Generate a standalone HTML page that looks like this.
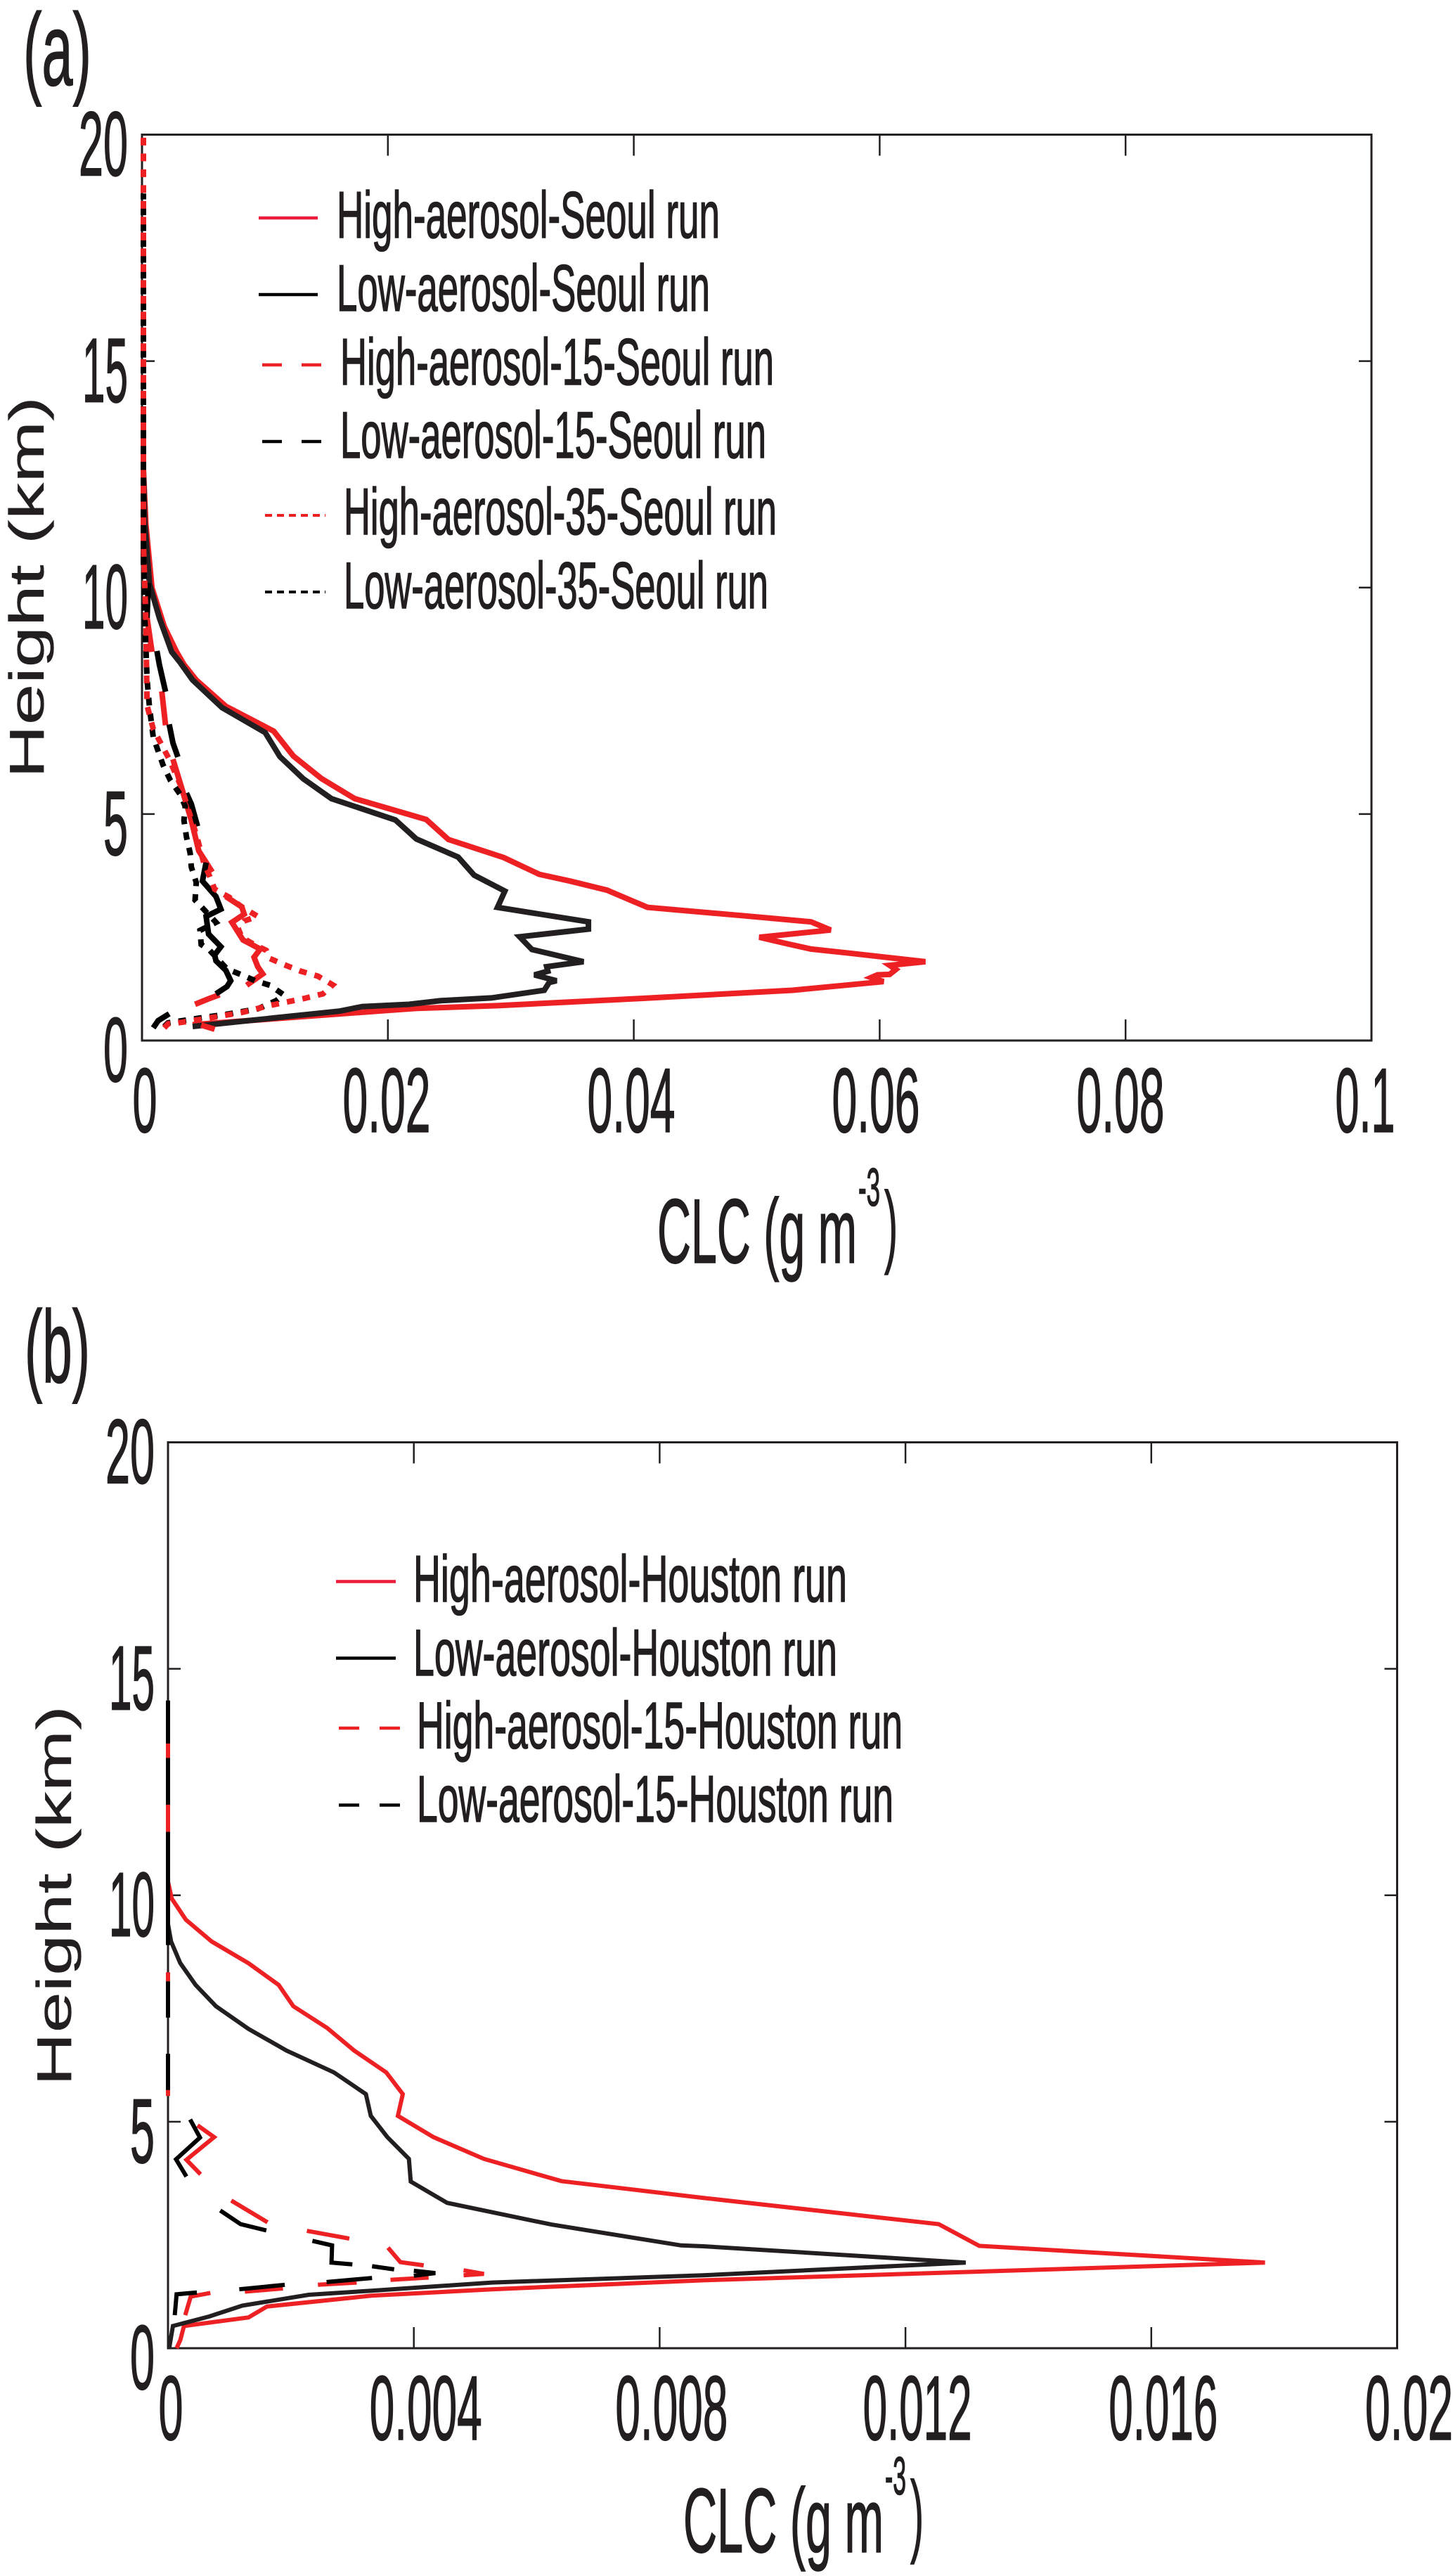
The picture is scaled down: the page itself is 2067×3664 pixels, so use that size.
<!DOCTYPE html>
<html lang="en">
<head>
<meta charset="utf-8">
<title>CLC profiles</title>
<style>
html,body{margin:0;padding:0;background:#fff;}
svg{display:block;}
text{font-family:"Liberation Sans",sans-serif;fill:#231f20;stroke:#231f20;stroke-width:1.6px;}
text.axis-title-y{stroke-width:0.3px;}
</style>
</head>
<body>
<svg id="figure" xmlns="http://www.w3.org/2000/svg" width="2067" height="3664" viewBox="0 0 2067 3664">
  <rect x="0" y="0" width="2067" height="3664" fill="#fff"/>

  <text x="33" y="121" font-size="146" textLength="97" lengthAdjust="spacingAndGlyphs">(a)</text>
  <text x="35" y="1966" font-size="146" textLength="93" lengthAdjust="spacingAndGlyphs">(b)</text>

  <text class="axis-title-y" transform="translate(62,1107) rotate(-90)" font-size="70" textLength="543" lengthAdjust="spacingAndGlyphs">Height (km)</text>
  <text class="axis-title-y" transform="translate(101,2967) rotate(-90)" font-size="70" textLength="541" lengthAdjust="spacingAndGlyphs">Height (km)</text>

  <g>
    <text x="935" y="1796" font-size="130" textLength="284" lengthAdjust="spacingAndGlyphs">CLC (g m</text>
    <text x="1221" y="1715" font-size="76" textLength="31" lengthAdjust="spacingAndGlyphs">-3</text>
    <text x="1258" y="1786" font-size="130" textLength="19" lengthAdjust="spacingAndGlyphs">)</text>
  </g>
  <g>
    <text x="972" y="3630" font-size="130" textLength="285" lengthAdjust="spacingAndGlyphs">CLC (g m</text>
    <text x="1259" y="3548" font-size="76" textLength="30" lengthAdjust="spacingAndGlyphs">-3</text>
    <text x="1295" y="3620" font-size="130" textLength="19" lengthAdjust="spacingAndGlyphs">)</text>
  </g>

  <g id="plot-a"></g>
  <g id="plot-b"></g>

  <g>
    <g>
      <line x1="368" y1="310" x2="452" y2="310" stroke="#ed1c3c" stroke-width="4.5"/>
      <text x="479" y="338" font-size="94" textLength="545" lengthAdjust="spacingAndGlyphs">High-aerosol-Seoul run</text>
    </g>
    <g>
      <line x1="368" y1="419" x2="452" y2="419" stroke="#000" stroke-width="4.5"/>
      <text x="479" y="442" font-size="94" textLength="531" lengthAdjust="spacingAndGlyphs">Low-aerosol-Seoul run</text>
    </g>
    <g>
      <line x1="373" y1="519" x2="458" y2="519" stroke="#ed2024" stroke-width="4.5" stroke-dasharray="28 28"/>
      <text x="484" y="547" font-size="94" textLength="617" lengthAdjust="spacingAndGlyphs">High-aerosol-15-Seoul run</text>
    </g>
    <g>
      <line x1="373" y1="628" x2="458" y2="628" stroke="#000" stroke-width="4.5" stroke-dasharray="28 28"/>
      <text x="484" y="651" font-size="94" textLength="606" lengthAdjust="spacingAndGlyphs">Low-aerosol-15-Seoul run</text>
    </g>
    <g>
      <line x1="377" y1="733" x2="463" y2="733" stroke="#ed2024" stroke-width="4" stroke-dasharray="10 7"/>
      <text x="489" y="760" font-size="94" textLength="616" lengthAdjust="spacingAndGlyphs">High-aerosol-35-Seoul run</text>
    </g>
    <g>
      <line x1="377" y1="842" x2="463" y2="842" stroke="#000" stroke-width="4" stroke-dasharray="10 7"/>
      <text x="489" y="865" font-size="94" textLength="604" lengthAdjust="spacingAndGlyphs">Low-aerosol-35-Seoul run</text>
    </g>
  </g>

  <g>
    <g>
      <line x1="478" y1="2249.5" x2="563" y2="2249.5" stroke="#ed1c3c" stroke-width="4.5"/>
      <text x="588" y="2278" font-size="94" textLength="617" lengthAdjust="spacingAndGlyphs">High-aerosol-Houston run</text>
    </g>
    <g>
      <line x1="478" y1="2358.5" x2="563" y2="2358.5" stroke="#000" stroke-width="4.5"/>
      <text x="588" y="2383" font-size="94" textLength="603" lengthAdjust="spacingAndGlyphs">Low-aerosol-Houston run</text>
    </g>
    <g>
      <line x1="482" y1="2458" x2="569" y2="2458" stroke="#ed2024" stroke-width="4.5" stroke-dasharray="29 29"/>
      <text x="593" y="2486.6" font-size="94" textLength="691" lengthAdjust="spacingAndGlyphs">High-aerosol-15-Houston run</text>
    </g>
    <g>
      <line x1="482" y1="2567.5" x2="569" y2="2567.5" stroke="#000" stroke-width="4.5" stroke-dasharray="29 29"/>
      <text x="593" y="2591" font-size="94" textLength="678" lengthAdjust="spacingAndGlyphs">Low-aerosol-15-Houston run</text>
    </g>
  </g>
</svg>

<script>
// ---- Panel (a) tick labels ----
var panelAXTicks = [0, 0.02, 0.04, 0.06, 0.08, 0.1];
var panelAXTickLabels = ["0", "0.02", "0.04", "0.06", "0.08", "0.1"];
var panelAYTicks = [0, 5, 10, 15, 20];
var panelAYTickLabels = ["0", "5", "10", "15", "20"];

// ---- Panel (a) series: CLC (g m-3) and height (km); null marks a dash gap ----
var highSeoulClc = [0.0040,0.0191,0.0222,0.0288,0.0405,0.0528,0.0602,0.0592,0.0597,0.0607,0.0612,0.0607,0.0636,0.0574,0.0543,0.0523,0.0501,0.0559,0.0543,0.0490,0.0410,0.0377,0.0347,0.0322,0.0293,0.0248,0.0230,0.0172,0.0145,0.0122,0.0106,0.0067,0.0043,0.0033,0.0027,0.0017,0.0007,0.0002,0];
var highSeoulHeight = [0.35,0.65,0.71,0.77,0.93,1.11,1.30,1.39,1.45,1.46,1.57,1.66,1.74,1.93,2.02,2.14,2.28,2.44,2.62,2.75,2.94,3.32,3.52,3.67,4.04,4.44,4.88,5.34,5.78,6.28,6.83,7.38,7.96,8.30,8.58,9.14,9.99,11.4,12.6];

var lowSeoulClc = [0.0040,0.0160,0.0178,0.0216,0.0242,0.0283,0.0326,0.0330,0.0336,0.0318,0.0329,0.0328,0.0358,0.0316,0.0306,0.0362,0.0362,0.0288,0.0294,0.0269,0.0256,0.0222,0.0205,0.0153,0.0130,0.0111,0.0099,0.0064,0.0040,0.0030,0.0023,0.0013,0.0005,0.0001,0];
var lowSeoulHeight = [0.31,0.65,0.75,0.80,0.88,0.94,1.11,1.28,1.32,1.45,1.53,1.63,1.74,2.01,2.29,2.46,2.62,2.94,3.30,3.65,4.05,4.45,4.87,5.34,5.78,6.27,6.80,7.35,7.96,8.34,8.58,9.33,10.08,11.5,12.6];

var high15SeoulClc = [0.0058,0.0047,null,0.0042,0.0052,0.0062,null,0.0084,0.0097,0.0093,0.0090,0.0095,0.0081,0.0072,0.0082,0.0080,0.0067,null,0.0056,0.0045,0.0039,0.0031,0.0024,null,0.0018,0.0015,null,0.0007,0.0003,null,0,0];
var high15SeoulHeight = [0.25,0.34,null,0.80,0.91,1.01,null,1.22,1.47,1.63,1.84,2.02,2.22,2.61,2.79,2.95,3.18,null,3.72,4.19,4.86,5.59,6.21,null,6.96,7.71,null,8.58,9.33,null,10.5,14];

var low15SeoulClc = [0.0008,0.0012,0.0021,null,0.0059,0.0068,0.0071,0.0067,0.0059,0.0058,0.0063,0.0053,0.0051,0.0063,0.0059,0.0048,0.0051,null,0.0044,0.0039,0.0035,null,0.0028,0.0024,0.0021,null,0.0018,0.0013,0.0011,null,0.0004,0.0003,null,0,0];
var low15SeoulHeight = [0.28,0.44,0.59,null,1.03,1.19,1.32,1.55,1.76,1.89,2.07,2.35,2.74,2.90,3.18,3.52,3.93,null,4.73,5.22,5.46,null,6.26,6.57,6.98,null,7.70,8.30,8.60,null,10.1,9.33,null,10.5,14];

var low35SeoulClc = [0.0017,0.0020,0.0044,0.0070,0.0093,0.0108,0.0114,0.0103,0.0091,0.0080,0.0068,0.0054,0.0047,0.0046,0.0059,0.0049,0.0042,0.0043,0.0039,0.0038,0.0035,0.0033,0.0034,0.0030,0.0022,0.0016,0.0012,0.0008,0.0005,0.0003,0.0001,0,0];
var low35SeoulHeight = [0.31,0.39,0.49,0.59,0.70,0.88,1.01,1.22,1.32,1.45,1.58,1.99,2.12,2.43,2.61,2.90,3.10,3.49,3.83,4.14,4.50,4.86,5.17,5.43,5.74,6.08,6.39,6.70,7.35,7.97,9.5,11,18.7];

var high35SeoulClc = [0.0017,0.0020,0.0028,0.0052,0.0080,0.0104,0.0131,0.0146,0.0154,0.0142,0.0128,0.0114,0.0103,0.0100,0.0090,0.0080,0.0077,0.0082,0.0093,0.0080,0.0070,0.0058,0.0054,0.0049,0.0043,0.0038,0.0031,0.0021,0.0015,0.0008,0.0003,0.0002,0,0];
var high35SeoulHeight = [0.28,0.37,0.39,0.49,0.62,0.78,0.93,1.03,1.23,1.42,1.53,1.68,1.81,1.99,2.12,2.28,2.48,2.64,2.74,2.95,3.16,3.34,3.62,3.93,4.55,4.97,5.59,6.21,6.52,6.88,7.40,9.3,11,20];

// ---- Panel (b) tick labels ----
var panelBXTicks = [0, 0.004, 0.008, 0.012, 0.016, 0.02];
var panelBXTickLabels = ["0", "0.004", "0.008", "0.012", "0.016", "0.02"];
var panelBYTicks = [0, 5, 10, 15, 20];
var panelBYTickLabels = ["0", "5", "10", "15", "20"];

// ---- Panel (b) series ----
var highHoustonClc = [0.00014,0.0002,0.00026,0.00131,0.00161,0.00331,0.00527,0.00871,0.01785,0.0132,0.01254,0.0087,0.0064,0.00514,0.00432,0.00374,0.00382,0.00355,0.00303,0.00259,0.00204,0.0018,0.00131,0.00071,0.00029,0.00006,0];
var highHoustonHeight = [0,0.18,0.49,0.68,0.92,1.16,1.30,1.50,1.89,2.26,2.74,3.32,3.69,4.18,4.66,5.13,5.61,6.09,6.57,7.07,7.55,8.02,8.50,8.98,9.46,9.93,10.3];

var lowHoustonClc = [0.00002,0.00008,0.00067,0.00121,0.00229,0.00331,0.00527,0.00871,0.01298,0.00871,0.00835,0.00624,0.00454,0.00395,0.00392,0.00357,0.0033,0.00322,0.0027,0.00193,0.00131,0.00078,0.00045,0.0002,0.00005,0];
var lowHoustonHeight = [0,0.49,0.70,0.94,1.18,1.27,1.45,1.61,1.89,2.25,2.27,2.73,3.21,3.68,4.18,4.66,5.13,5.61,6.09,6.57,7.05,7.55,8.02,8.50,8.98,9.36];

var high15HoustonClc = [0.00028,0.00037,0.00069,null,0.00125,0.00187,null,0.00244,0.00307,null,0.00362,0.00424,null,0.00481,0.00514,0.00481,null,0.00416,0.00378,0.00358,null,0.00295,0.00226,null,0.00162,0.00103,null,0.00053,0.0003,0.00075,0.00048,null,0,0,null,0,0,null,0,0,null,0,0];
var high15HoustonHeight = [0.73,1.14,1.22,null,1.25,1.32,null,1.40,1.45,null,1.51,1.56,null,1.61,1.64,1.72,null,1.83,1.90,2.22,null,2.42,2.59,null,2.78,3.26,null,3.84,4.16,4.66,4.92,null,5.57,5.72,null,8.1,8.3,null,11.4,12,null,13.03,13.35];

var low15HoustonClc = [0.00011,0.00014,0.00047,null,0.00116,0.0019,null,0.00258,0.00332,null,0.004,0.00435,0.004,null,0.00368,0.00332,null,0.003,0.00266,0.00267,0.00235,null,0.0016,0.00118,0.00085,null,0.0003,0.00013,0.00052,0.00036,null,0,0,null,0,0,null,0,0,null,0,0,null,0,0];
var low15HoustonHeight = [0.73,1.19,1.23,null,1.30,1.40,null,1.46,1.55,null,1.60,1.66,1.71,null,1.74,1.81,null,1.85,1.89,2.27,2.37,null,2.60,2.74,3.04,null,3.79,4.17,4.65,5.05,null,5.7,6.5,null,7.3,8.1,null,8.9,11.4,null,12,13.03,null,13.35,14.3];

var SVG_NS = "http://www.w3.org/2000/svg";

function makeScale(domainMax, start, end) {
  return function (value) { return start + (value / domainMax) * (end - start); };
}

function labelWidth(str) {
  var total = 0;
  for (var i = 0; i < str.length; i++) {
    total += str[i] === "." ? 20 : (str[i] === "1" ? 30 : 35);
  }
  return total;
}

function drawSeries(parent, name, xs, ys, xScale, yScale, color, width, dash) {
  var d = "";
  var pen = false;
  for (var i = 0; i < xs.length; i++) {
    if (xs[i] === null || ys[i] === null) { pen = false; continue; }
    d += (pen ? "L" : "M") + xScale(xs[i]).toFixed(1) + " " + yScale(ys[i]).toFixed(1);
    pen = true;
  }
  var el = document.createElementNS(SVG_NS, "path");
  el.setAttribute("d", d);
  el.setAttribute("fill", "none");
  el.setAttribute("stroke", color);
  el.setAttribute("stroke-width", width);
  el.setAttribute("stroke-linejoin", "miter");
  el.setAttribute("stroke-miterlimit", "3");
  if (dash) { el.setAttribute("stroke-dasharray", dash); }
  
  
  parent.appendChild(el);
}

function drawFrame(parent, prefix, box, xTicks, xLabels, yTicks, yLabels, xScale, yScale, xOffset, yRight) {
  var frame = document.createElementNS(SVG_NS, "rect");
  frame.setAttribute("x", box.l);
  frame.setAttribute("y", box.t);
  frame.setAttribute("width", box.r - box.l);
  frame.setAttribute("height", box.b - box.t);
  frame.setAttribute("fill", "none");
  frame.setAttribute("stroke", "#231f20");
  frame.setAttribute("stroke-width", "3");
  
  
  parent.appendChild(frame);

  xTicks.forEach(function (value, i) {
    var px = xScale(value);
    if (i > 0 && i < xTicks.length - 1) {
      var tick = document.createElementNS(SVG_NS, "path");
      tick.setAttribute("d", "M" + px + " " + box.b + "v-30M" + px + " " + box.t + "v30");
      tick.setAttribute("stroke", "#231f20");
      tick.setAttribute("stroke-width", "2.5");
      
      
      parent.appendChild(tick);
    }
    var w = labelWidth(xLabels[i]);
    var label = document.createElementNS(SVG_NS, "text");
    label.textContent = xLabels[i];
    label.setAttribute("x", px - w / 2 + xOffset(value));
    label.setAttribute("y", box.labelY);
    label.setAttribute("font-size", "130");
    label.setAttribute("textLength", w);
    label.setAttribute("lengthAdjust", "spacingAndGlyphs");
    
    
    parent.appendChild(label);
  });

  yTicks.forEach(function (value, i) {
    var py = yScale(value);
    if (i > 0 && i < yTicks.length - 1) {
      var tick = document.createElementNS(SVG_NS, "path");
      tick.setAttribute("d", "M" + box.l + " " + py + "h18M" + box.r + " " + py + "h-18");
      tick.setAttribute("stroke", "#231f20");
      tick.setAttribute("stroke-width", "2.5");
      
      
      parent.appendChild(tick);
    }
    var w = labelWidth(yLabels[i]);
    var label = document.createElementNS(SVG_NS, "text");
    label.textContent = yLabels[i];
    label.setAttribute("x", yRight - w);
    label.setAttribute("y", py + 58);
    label.setAttribute("font-size", "130");
    label.setAttribute("textLength", w);
    label.setAttribute("lengthAdjust", "spacingAndGlyphs");
    
    
    parent.appendChild(label);
  });
}

// Panel (a)
(function () {
  var box = { l: 202, r: 1951, t: 191.5, b: 1480, labelY: 1610 };
  var x = makeScale(0.1, box.l, box.r);
  var y = makeScale(20, box.b, box.t);
  var plot = document.getElementById("plot-a");
  drawFrame(plot, "panel-a", box, panelAXTicks, panelAXTickLabels, panelAYTicks, panelAYTickLabels, x, y,
    function (v) { return v === 0 ? 4 : -v * 90; }, 182);
  var ox = function (v) { return x(v) + 2; };
  drawSeries(plot, "series-high-aerosol-seoul", highSeoulClc, highSeoulHeight, ox, y, "#ed2024", 8);
  drawSeries(plot, "series-low-aerosol-seoul", lowSeoulClc, lowSeoulHeight, ox, y, "#231f20", 8);
  drawSeries(plot, "series-high-aerosol-15-seoul", high15SeoulClc, high15SeoulHeight, ox, y, "#ed2024", 8);
  drawSeries(plot, "series-low-aerosol-15-seoul", low15SeoulClc, low15SeoulHeight, ox, y, "#000", 8);
  drawSeries(plot, "series-low-aerosol-35-seoul", low35SeoulClc, low35SeoulHeight, ox, y, "#000", 8, "11 11.5");
  drawSeries(plot, "series-high-aerosol-35-seoul", high35SeoulClc, high35SeoulHeight, ox, y, "#ed2024", 8, "11 11.5");
})();

// Panel (b)
(function () {
  var box = { l: 239, r: 1987.5, t: 2051.5, b: 3340, labelY: 3470 };
  var x = makeScale(0.02, box.l, box.r);
  var y = makeScale(20, box.b, box.t);
  var plot = document.getElementById("plot-b");
  drawFrame(plot, "panel-b", box, panelBXTicks, panelBXTickLabels, panelBYTicks, panelBYTickLabels, x, y,
    function (v) { return v === 0 ? 4 : 17; }, 220);
  drawSeries(plot, "series-high-aerosol-houston", highHoustonClc, highHoustonHeight, x, y, "#ed2024", 6);
  drawSeries(plot, "series-low-aerosol-houston", lowHoustonClc, lowHoustonHeight, x, y, "#231f20", 6);
  drawSeries(plot, "series-high-aerosol-15-houston", high15HoustonClc, high15HoustonHeight, x, y, "#ed2024", 6);
  drawSeries(plot, "series-low-aerosol-15-houston", low15HoustonClc, low15HoustonHeight, x, y, "#000", 6);
})();
</script>
</body>
</html>
